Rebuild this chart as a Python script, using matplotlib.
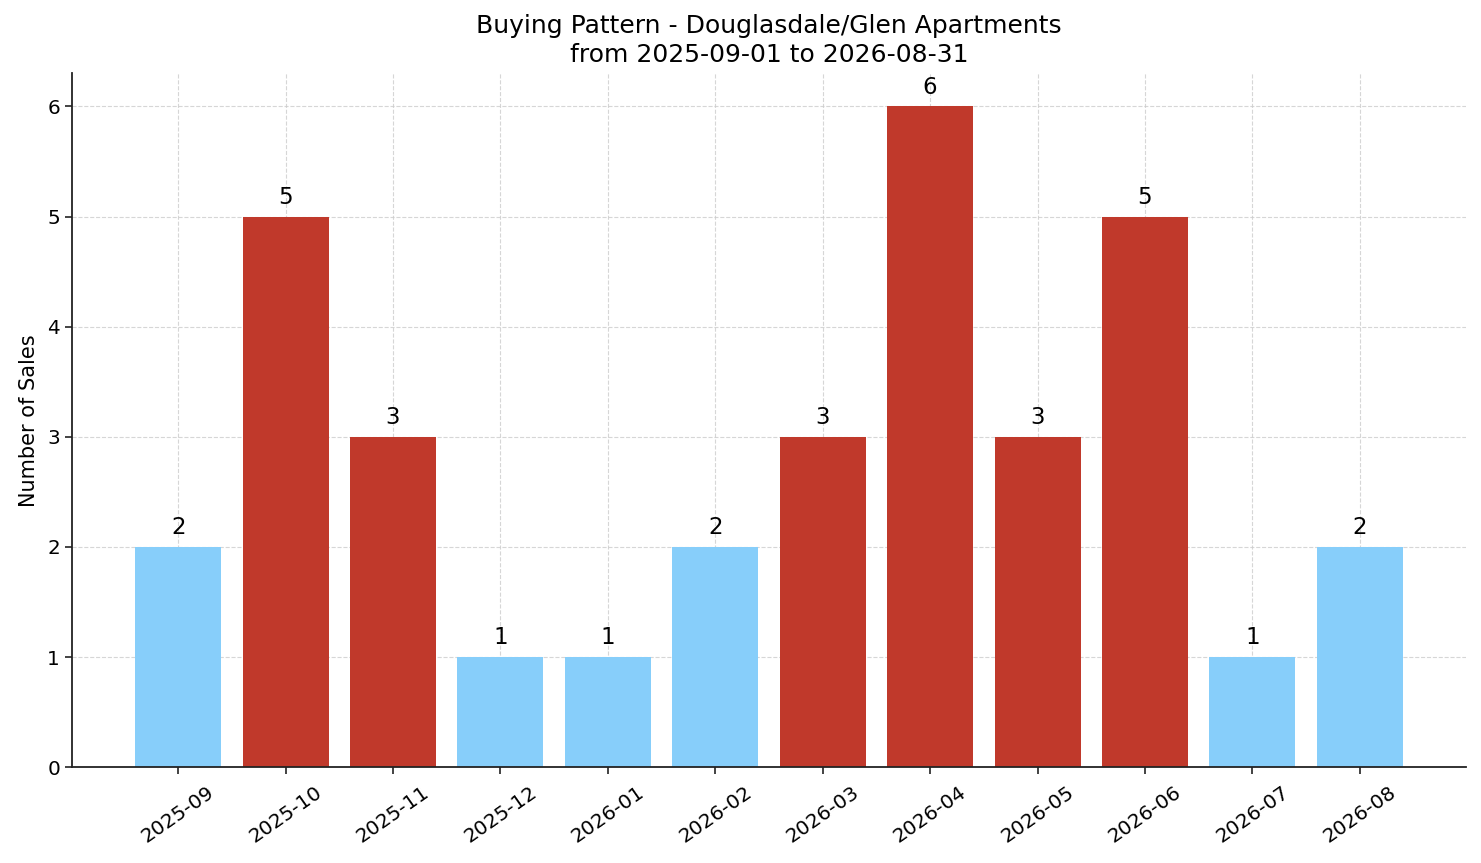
import matplotlib
matplotlib.use("Agg")
import matplotlib.pyplot as plt

months = ["2025-09", "2025-10", "2025-11", "2025-12", "2026-01", "2026-02",
          "2026-03", "2026-04", "2026-05", "2026-06", "2026-07", "2026-08"]
sales = [2, 5, 3, 1, 1, 2, 3, 6, 3, 5, 1, 2]
threshold = 3

colors = ["#c0392b" if v >= threshold else "#87cefa" for v in sales]

fig, ax = plt.subplots(figsize=(14.81, 8.63), dpi=100)
fig.subplots_adjust(left=0.0485, right=0.99, bottom=0.111, top=0.915)

x = range(len(months))
ax.bar(x, sales, color=colors, width=0.8, zorder=2)
for xi, v in zip(x, sales):
    ax.text(xi, v + 0.07, str(v), ha="center", va="bottom", fontsize=16.5)

ax.set_xticks(list(x))
ax.set_xticklabels(months, rotation=35, fontsize=14.4)
ax.tick_params(axis="both", labelsize=14.4, length=5, width=1.2, color="#222222")
ax.tick_params(axis="x", pad=6)
ax.set_ylabel("Number of Sales", fontsize=15, labelpad=6)
ax.set_title("Buying Pattern - Douglasdale/Glen Apartments\nfrom 2025-09-01 to 2026-08-31",
             fontsize=18, pad=8, linespacing=1.25)
ax.grid(True, linestyle="--", color="#cccccc", alpha=0.8, linewidth=0.8, zorder=0)
ax.set_axisbelow(True)
ax.spines["top"].set_visible(False)
ax.spines["right"].set_visible(False)
for s in ("left", "bottom"):
    ax.spines[s].set_linewidth(1.3)
    ax.spines[s].set_color("#222222")

fig.savefig("out.png", dpi=100)
